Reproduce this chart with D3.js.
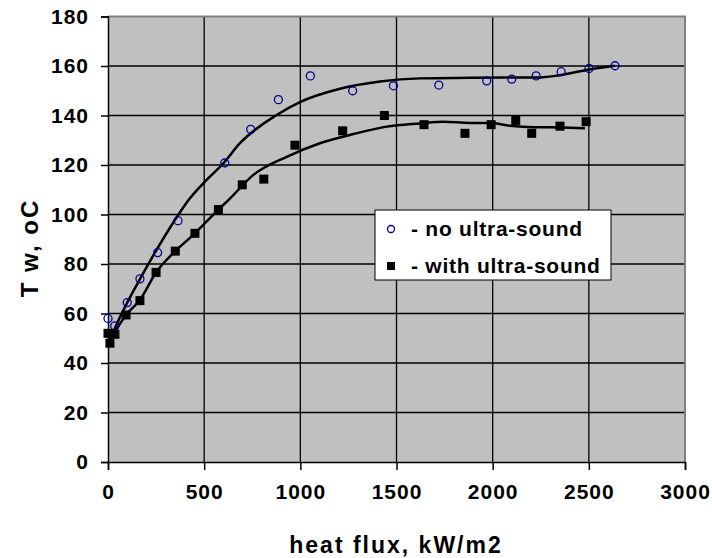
<!DOCTYPE html>
<html>
<head>
<meta charset="utf-8">
<script src="https://cdn.jsdelivr.net/npm/d3@7"></script>
<style>
  body { margin: 0; background: white; }
  text { font-family: "Liberation Sans", Arial, sans-serif; font-weight: bold; fill: black; }
</style>
</head>
<body>
<script>
// measured points
var noUsX = [0, 35, 100, 166, 258, 364, 607, 742, 886, 1052, 1272, 1484, 1720, 1969, 2099, 2226, 2356, 2501, 2636];
var noUsY = [58, 55, 64.4, 74, 84.6, 97.5, 120.8, 134.4, 146.4, 156, 150, 152, 152.3, 154, 154.7, 156, 157.7, 159, 160.1];

var withUsX = [0, 10, 36, 94, 166, 250, 350, 452, 574, 698, 810, 972, 1220, 1437, 1643, 1856, 1992, 2120, 2203, 2350, 2486];
var withUsY = [52, 48, 51.6, 59.4, 65.2, 76.6, 85.2, 92.4, 102, 112, 114.3, 128, 133.8, 140, 136.3, 132.8, 136.3, 138, 132.8, 135.7, 137.5];

// trend lines
var noFitX = [10, 28, 100, 166, 244, 348, 418, 500, 600, 686, 877, 998, 1206, 1414, 1622, 1900, 2246, 2350, 2489, 2636];
var noFitY = [49, 52.6, 64.4, 73.9, 84.6, 97.8, 105.8, 113, 120.7, 128.8, 140.2, 145.4, 150.8, 153.7, 155, 155.3, 155.4, 156.3, 158.4, 160.1];

var withFitX = [10, 94, 166, 250, 350, 452, 574, 626, 756, 929, 1102, 1276, 1449, 1622, 1744, 1882, 1986, 2090, 2212, 2350, 2480];
var withFitY = [49.3, 59.4, 65.5, 76.6, 85.2, 92.4, 102, 105.8, 116, 123.3, 128.8, 132.5, 135.5, 136.8, 137.5, 137, 137, 135.9, 135.3, 135.2, 134.8];

var xTicks = [0, 500, 1000, 1500, 2000, 2500, 3000];
var yTicks = [0, 20, 40, 60, 80, 100, 120, 140, 160, 180];
var legendLabels = ['- no ultra-sound', '- with ultra-sound'];

var pLeft = 108, pRight = 685, pTop = 16.5, pBottom = 462;

var svg = d3.select('body').append('svg')
  .attr('width', 712)
  .attr('height', 558);

var x = d3.scaleLinear().domain([0, 3000]).range([pLeft, pRight]);
var y = d3.scaleLinear().domain([0, 180]).range([pBottom, pTop]);

// plot background
svg.append('rect')
  .attr('x', pLeft).attr('y', pTop)
  .attr('width', pRight - pLeft).attr('height', pBottom - pTop)
  .attr('fill', '#c0c0c0');

// grid
svg.selectAll('.hgrid')
  .data(yTicks.slice(1, -1))
  .enter().append('line')
  .attr('x1', pLeft).attr('x2', pRight)
  .attr('y1', function(d) { return y(d); })
  .attr('y2', function(d) { return y(d); })
  .attr('stroke', 'black').attr('stroke-width', 1.3);

svg.selectAll('.vgrid')
  .data(xTicks.slice(1, -1))
  .enter().append('line')
  .attr('y1', pTop).attr('y2', pBottom)
  .attr('x1', function(d) { return x(d); })
  .attr('x2', function(d) { return x(d); })
  .attr('stroke', 'black').attr('stroke-width', 1.3);

// grey frame top / right
svg.append('path')
  .attr('d', 'M' + pLeft + ',' + pTop + 'H' + pRight + 'V' + pBottom)
  .attr('fill', 'none')
  .attr('stroke', '#808080').attr('stroke-width', 2);

// axes
var xAxis = svg.append('g')
  .attr('transform', 'translate(0,' + pBottom + ')')
  .call(d3.axisBottom(x).tickValues(xTicks).tickFormat(d3.format('d')).tickSize(8).tickPadding(14));
var yAxis = svg.append('g')
  .attr('transform', 'translate(' + pLeft + ',0)')
  .call(d3.axisLeft(y).tickValues(yTicks).tickFormat(d3.format('d')).tickSize(7).tickPadding(12));

[xAxis, yAxis].forEach(function(g) {
  g.select('.domain').attr('stroke', 'black').attr('stroke-width', 1.5);
  g.selectAll('.tick line').attr('stroke', 'black').attr('stroke-width', 1.5);
  g.selectAll('.tick text')
    .attr('fill', 'black')
    .style('font-size', '21px')
    .style('letter-spacing', '1px')
    .style('font-family', '"Liberation Sans", Arial, sans-serif')
    .style('font-weight', 'bold');
});

// trend lines
var line = d3.line()
  .x(function(d) { return x(d[0]); })
  .y(function(d) { return y(d[1]); })
  .curve(d3.curveMonotoneX);

svg.append('path')
  .datum(d3.zip(noFitX, noFitY))
  .attr('d', line)
  .attr('fill', 'none').attr('stroke', 'black').attr('stroke-width', 2.5);

svg.append('path')
  .datum(d3.zip(withFitX, withFitY))
  .attr('d', line)
  .attr('fill', 'none').attr('stroke', 'black').attr('stroke-width', 2.5);

// points
svg.selectAll('.circ')
  .data(d3.zip(noUsX, noUsY))
  .enter().append('circle')
  .attr('cx', function(d) { return x(d[0]); })
  .attr('cy', function(d) { return y(d[1]); })
  .attr('r', 4)
  .attr('fill', 'none')
  .attr('stroke', '#000090').attr('stroke-width', 1.3);

svg.selectAll('.sq')
  .data(d3.zip(withUsX, withUsY))
  .enter().append('rect')
  .attr('x', function(d) { return x(d[0]) - 4.5; })
  .attr('y', function(d) { return y(d[1]) - 4.5; })
  .attr('width', 9).attr('height', 9)
  .attr('fill', 'black');

// legend
var lg = svg.append('g');
lg.append('rect')
  .attr('x', 375).attr('y', 210)
  .attr('width', 236).attr('height', 70)
  .attr('fill', 'white').attr('stroke', 'black').attr('stroke-width', 1);
lg.append('circle')
  .attr('cx', 391).attr('cy', 229).attr('r', 3.5)
  .attr('fill', 'none').attr('stroke', '#000090').attr('stroke-width', 1.3);
lg.append('rect')
  .attr('x', 387).attr('y', 262).attr('width', 8).attr('height', 8)
  .attr('fill', 'black');
lg.selectAll('.lt')
  .data(legendLabels)
  .enter().append('text')
  .attr('x', 411)
  .attr('y', function(d, i) { return 236 + i * 37; })
  .style('font-size', '21px')
  .style('letter-spacing', '0.75px')
  .text(function(d) { return d; });

// axis titles
svg.append('text')
  .attr('x', 396).attr('y', 553)
  .attr('text-anchor', 'middle')
  .style('font-size', '23px')
  .style('letter-spacing', '2px')
  .text('heat flux, kW/m2');

svg.append('text')
  .attr('transform', 'translate(38,248) rotate(-90)')
  .attr('text-anchor', 'middle')
  .style('font-size', '24px')
  .style('letter-spacing', '2px')
  .text('T w, oC');
</script>
</body>
</html>
